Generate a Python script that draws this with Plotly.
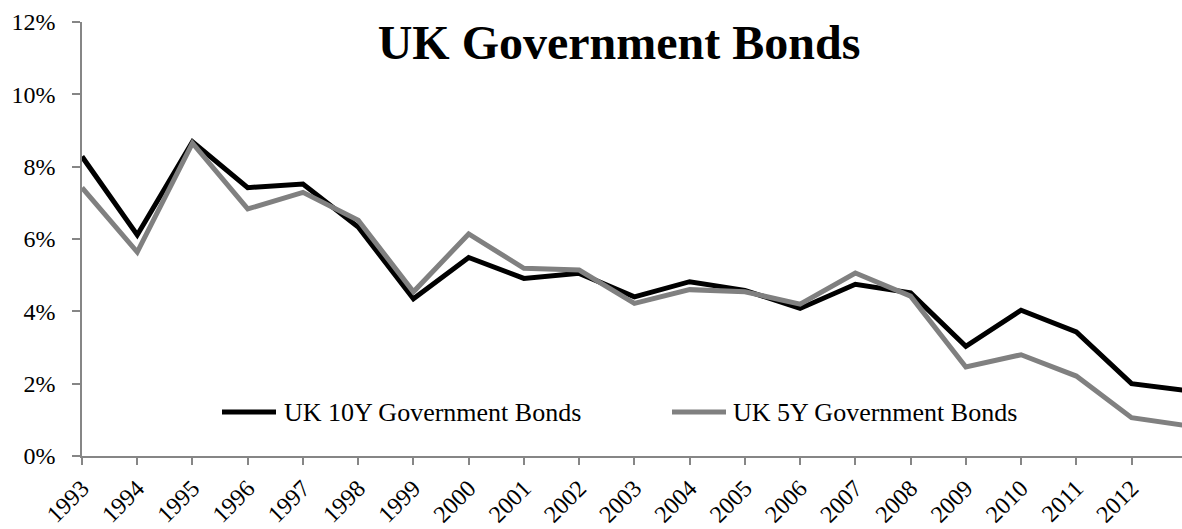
import plotly.graph_objects as go

# Annual UK government bond yields (%)
years = list(range(1993, 2014))
tick_years = list(range(1993, 2013))
series_names = ["UK 10Y Government Bonds", "UK 5Y Government Bonds"]
yield_10y = [8.28, 6.11, 8.69, 7.42, 7.52, 6.33, 4.35, 5.49, 4.91, 5.05, 4.40,
             4.82, 4.58, 4.08, 4.75, 4.51, 3.03, 4.03, 3.43, 2.00, 1.81]
yield_5y = [7.42, 5.64, 8.65, 6.83, 7.29, 6.52, 4.54, 6.14, 5.19, 5.14, 4.22,
            4.60, 4.54, 4.20, 5.06, 4.42, 2.46, 2.80, 2.21, 1.06, 0.84]
y_ticks = [0, 2, 4, 6, 8, 10, 12]
y_tick_text = [f"{v}%" for v in y_ticks]

W, H = 1182, 529
M_L, M_R, M_T, M_B = 82, 0, 22, 73
PW, PH = W - M_L - M_R, H - M_T - M_B

line_colors = ["#000000", "#808080"]
FONT = "Liberation Serif, Times New Roman, serif"
AXIS_GREY = "#868686"

fig = go.Figure()
for name, vals, col in zip(series_names, [yield_10y, yield_5y], line_colors):
    fig.add_trace(go.Scatter(x=years, y=vals, mode="lines", name=name,
                             line=dict(color=col, width=5), showlegend=False))


def px_x(p):
    return (p - M_L) / PW


def px_y(p):
    return (H - M_B - p) / PH


# Legend drawn as line samples with labels inside the plot area
legend_items = [(222, 276, 282), (672, 726, 731)]
legend_y = 412
for (x0, x1, xt), name, col in zip(legend_items, series_names, line_colors):
    fig.add_shape(type="line", xref="paper", yref="paper",
                  x0=px_x(x0), x1=px_x(x1), y0=px_y(legend_y), y1=px_y(legend_y),
                  line=dict(color=col, width=5))
    fig.add_annotation(xref="paper", yref="paper", x=px_x(xt), y=px_y(legend_y),
                       text=name, showarrow=False, xanchor="left", yanchor="middle",
                       font=dict(family=FONT, size=26, color="#000000"))

fig.update_layout(
    width=W, height=H,
    margin=dict(l=M_L, r=M_R, t=M_T, b=M_B),
    paper_bgcolor="white", plot_bgcolor="white",
    title=dict(text="<b>UK Government Bonds</b>", x=619 / W, xanchor="center",
               y=1 - 42 / H, yanchor="middle",
               font=dict(family=FONT, size=48, color="#000000")),
    xaxis=dict(range=[1993, 1993 + PW / 55.24], tickmode="array",
               tickvals=tick_years, ticktext=[str(y) for y in tick_years],
               tickangle=-45, ticks="outside", ticklen=7, tickcolor=AXIS_GREY,
               tickwidth=1.5, showline=True, linecolor=AXIS_GREY, linewidth=1.5,
               showgrid=False, zeroline=False,
               tickfont=dict(family=FONT, size=24, color="#000000")),
    yaxis=dict(range=[0, 12], tickmode="array", tickvals=y_ticks,
               ticktext=y_tick_text, ticks="outside", ticklen=8,
               tickcolor=AXIS_GREY, tickwidth=1.5, showline=True,
               linecolor=AXIS_GREY, linewidth=1.5, showgrid=False,
               zeroline=False, ticklabelstandoff=12,
               tickfont=dict(family=FONT, size=24, color="#000000")),
)

fig.write_html("out.html")
